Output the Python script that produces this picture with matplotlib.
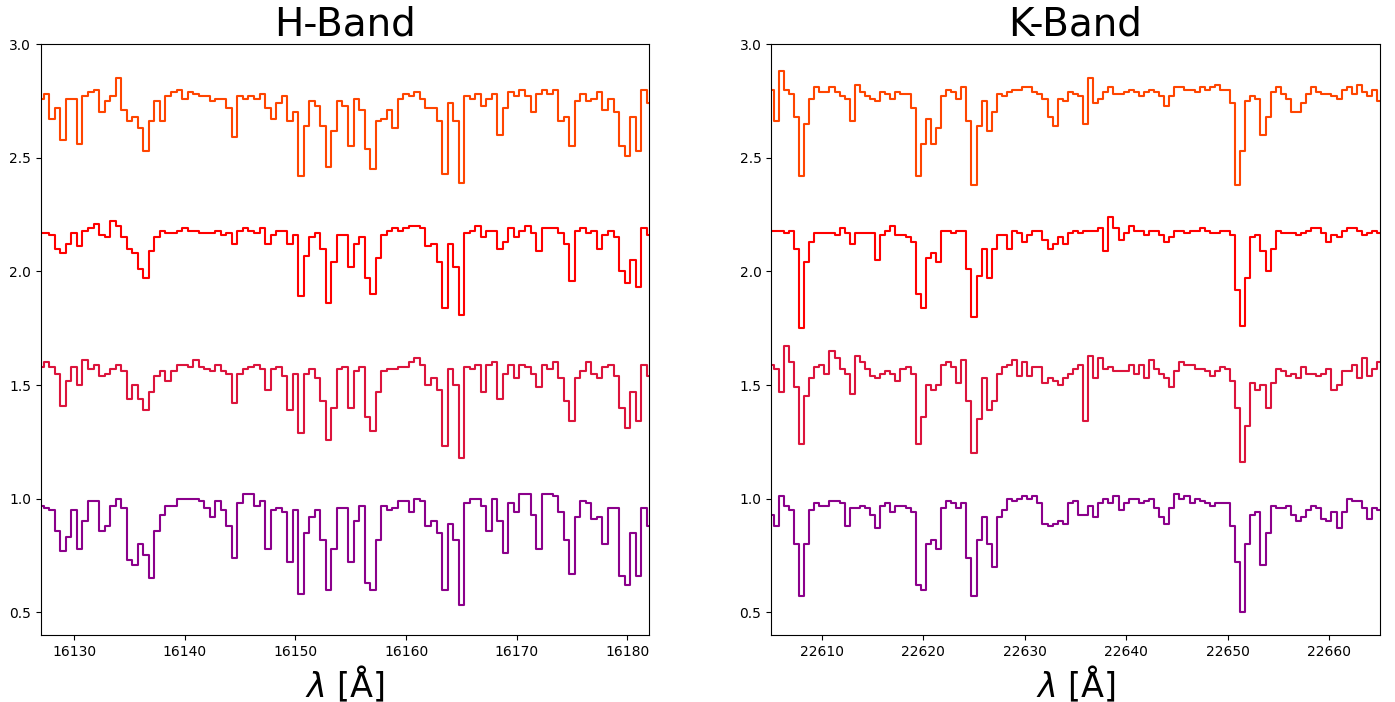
import numpy as np
import matplotlib
matplotlib.use('Agg')
import matplotlib.pyplot as plt


# wavelength grids (0.5 A sampling)
wave_h = np.arange(16127.0, 16182.01, 0.5)
wave_k = np.arange(22605.0, 22665.01, 0.5)

# H-band spectra, each one shifted up by ~0.6 for display
h_orange = [2.76, 2.78, 2.67, 2.72, 2.58, 2.76, 2.76, 2.56, 2.77, 2.79, 2.80, 2.70, 2.75, 2.77, 2.85, 2.71, 2.66, 2.68, 2.63, 2.53, 2.66, 2.75, 2.66, 2.77, 2.79, 2.80, 2.76, 2.79,
            2.78, 2.77, 2.77, 2.75, 2.76, 2.76, 2.72, 2.59, 2.77, 2.76, 2.77, 2.76, 2.78, 2.72, 2.67, 2.74, 2.77, 2.66, 2.70, 2.42, 2.64, 2.75, 2.73, 2.64, 2.46, 2.62, 2.75,
            2.73, 2.55, 2.76, 2.71, 2.54, 2.45, 2.66, 2.67, 2.71, 2.63, 2.76, 2.78, 2.77, 2.79, 2.76, 2.72, 2.72, 2.66, 2.43, 2.74, 2.66, 2.39, 2.77, 2.76, 2.78, 2.73, 2.76, 2.78,
            2.60, 2.72, 2.79, 2.77, 2.80, 2.77, 2.70, 2.78, 2.80, 2.78, 2.80, 2.66, 2.68, 2.55, 2.75, 2.78, 2.75, 2.76, 2.79, 2.71, 2.76, 2.70, 2.55, 2.51, 2.68, 2.53, 2.80, 2.74]
h_red = [2.17, 2.17, 2.16, 2.10, 2.08, 2.12, 2.17, 2.11, 2.18, 2.19, 2.21, 2.16, 2.15, 2.22, 2.20, 2.15, 2.10, 2.08, 2.01, 1.97, 2.09, 2.15, 2.18, 2.17, 2.17, 2.18, 2.19, 2.18,
         2.18, 2.17, 2.17, 2.17, 2.18, 2.16, 2.17, 2.12, 2.18, 2.19, 2.18, 2.17, 2.19, 2.12, 2.16, 2.18, 2.18, 2.12, 2.16, 1.89, 2.07, 2.15, 2.17, 2.10, 1.86, 2.04, 2.16,
         2.16, 2.02, 2.12, 2.15, 1.97, 1.90, 2.06, 2.16, 2.18, 2.19, 2.18, 2.19, 2.20, 2.20, 2.19, 2.11, 2.12, 2.04, 1.84, 2.12, 2.02, 1.81, 2.17, 2.18, 2.20, 2.15, 2.18, 2.18,
         2.10, 2.13, 2.19, 2.15, 2.18, 2.20, 2.17, 2.09, 2.19, 2.19, 2.19, 2.17, 2.12, 1.96, 2.18, 2.19, 2.17, 2.18, 2.10, 2.16, 2.18, 2.15, 2.00, 1.95, 2.05, 1.93, 2.19, 2.16]
h_crimson = [1.58, 1.60, 1.58, 1.55, 1.41, 1.52, 1.58, 1.50, 1.61, 1.57, 1.59, 1.54, 1.55, 1.57, 1.59, 1.56, 1.44, 1.50, 1.44, 1.39, 1.47, 1.54, 1.56, 1.52, 1.56, 1.59, 1.59, 1.58,
             1.61, 1.58, 1.57, 1.56, 1.59, 1.56, 1.55, 1.42, 1.55, 1.57, 1.58, 1.59, 1.57, 1.48, 1.57, 1.58, 1.54, 1.39, 1.55, 1.29, 1.55, 1.57, 1.53, 1.43, 1.26, 1.40, 1.57,
             1.58, 1.40, 1.56, 1.58, 1.36, 1.30, 1.47, 1.56, 1.57, 1.57, 1.58, 1.58, 1.60, 1.62, 1.59, 1.50, 1.53, 1.48, 1.23, 1.57, 1.50, 1.18, 1.58, 1.57, 1.59, 1.47, 1.59, 1.60,
             1.44, 1.55, 1.59, 1.53, 1.59, 1.58, 1.55, 1.49, 1.59, 1.57, 1.60, 1.53, 1.43, 1.34, 1.53, 1.56, 1.60, 1.55, 1.53, 1.58, 1.59, 1.54, 1.40, 1.31, 1.47, 1.34, 1.59, 1.54]
h_purple = [0.97, 0.96, 0.95, 0.86, 0.77, 0.83, 0.95, 0.78, 0.90, 0.99, 0.99, 0.86, 0.88, 0.97, 1.00, 0.96, 0.73, 0.71, 0.80, 0.75, 0.65, 0.86, 0.93, 0.97, 0.97, 1.00, 1.00, 1.00,
            1.00, 0.99, 0.96, 0.92, 0.99, 0.95, 0.88, 0.74, 0.98, 1.02, 1.02, 0.97, 0.99, 0.78, 0.95, 0.96, 0.94, 0.72, 0.95, 0.58, 0.85, 0.92, 0.95, 0.82, 0.60, 0.78, 0.96,
            0.96, 0.72, 0.90, 0.97, 0.63, 0.60, 0.82, 0.97, 0.95, 0.96, 0.99, 0.99, 0.94, 1.00, 0.99, 0.88, 0.90, 0.85, 0.60, 0.89, 0.82, 0.53, 0.98, 1.00, 1.00, 0.97, 0.86, 1.00,
            0.90, 0.76, 0.98, 0.94, 1.02, 1.02, 0.93, 0.78, 1.02, 1.02, 1.01, 0.94, 0.82, 0.67, 0.92, 0.99, 0.98, 0.91, 0.92, 0.80, 0.96, 0.96, 0.66, 0.62, 0.85, 0.66, 0.96, 0.88]

# K-band spectra, same offsets
k_orange = [2.80, 2.66, 2.88, 2.80, 2.78, 2.68, 2.42, 2.65, 2.76, 2.81, 2.79, 2.79, 2.81, 2.79, 2.77, 2.76, 2.66, 2.82, 2.79, 2.77, 2.76, 2.75, 2.79, 2.78, 2.76, 2.79, 2.78, 2.78, 2.72, 2.42,
            2.56, 2.67, 2.56, 2.63, 2.77, 2.80, 2.79, 2.76, 2.81, 2.66, 2.38, 2.64, 2.75, 2.62, 2.70, 2.78, 2.77, 2.79, 2.80, 2.80, 2.81, 2.81, 2.79, 2.78, 2.76, 2.68, 2.64, 2.76, 2.75, 2.79,
            2.78, 2.77, 2.65, 2.85, 2.74, 2.76, 2.79, 2.81, 2.78, 2.78, 2.79, 2.80, 2.79, 2.77, 2.79, 2.80, 2.79, 2.77, 2.73, 2.77, 2.81, 2.81, 2.80, 2.80, 2.79, 2.81, 2.80, 2.81, 2.82, 2.80,
            2.80, 2.74, 2.38, 2.53, 2.75, 2.77, 2.76, 2.60, 2.68, 2.79, 2.81, 2.78, 2.76, 2.70, 2.70, 2.74, 2.78, 2.81, 2.79, 2.78, 2.78, 2.77, 2.76, 2.80, 2.81, 2.78, 2.82, 2.79, 2.77, 2.80, 2.75]
k_red = [2.18, 2.18, 2.18, 2.17, 2.18, 2.10, 1.75, 2.04, 2.13, 2.17, 2.17, 2.17, 2.17, 2.16, 2.19, 2.17, 2.12, 2.17, 2.17, 2.17, 2.17, 2.05, 2.16, 2.18, 2.20, 2.16, 2.16, 2.15, 2.13, 1.90,
         1.84, 2.06, 2.08, 2.04, 2.18, 2.18, 2.17, 2.18, 2.18, 2.01, 1.80, 1.98, 2.10, 1.97, 2.10, 2.16, 2.16, 2.10, 2.18, 2.17, 2.13, 2.16, 2.18, 2.18, 2.14, 2.10, 2.12, 2.15, 2.12, 2.17,
         2.18, 2.17, 2.18, 2.18, 2.18, 2.19, 2.09, 2.24, 2.19, 2.14, 2.17, 2.20, 2.18, 2.18, 2.16, 2.18, 2.18, 2.16, 2.13, 2.15, 2.18, 2.18, 2.17, 2.18, 2.18, 2.19, 2.18, 2.17, 2.17, 2.18,
         2.18, 2.16, 1.92, 1.76, 1.97, 2.15, 2.16, 2.09, 2.00, 2.10, 2.18, 2.17, 2.17, 2.17, 2.16, 2.17, 2.18, 2.19, 2.19, 2.17, 2.13, 2.16, 2.15, 2.18, 2.19, 2.19, 2.18, 2.16, 2.17, 2.18, 2.17]
k_crimson = [1.59, 1.57, 1.47, 1.67, 1.60, 1.49, 1.24, 1.45, 1.53, 1.58, 1.59, 1.55, 1.65, 1.62, 1.57, 1.55, 1.46, 1.63, 1.60, 1.57, 1.54, 1.53, 1.55, 1.56, 1.55, 1.52, 1.57, 1.58, 1.55, 1.24,
             1.36, 1.50, 1.48, 1.50, 1.59, 1.60, 1.58, 1.51, 1.61, 1.43, 1.20, 1.35, 1.53, 1.39, 1.43, 1.55, 1.58, 1.59, 1.61, 1.54, 1.60, 1.54, 1.58, 1.58, 1.51, 1.53, 1.52, 1.50, 1.53, 1.55,
             1.57, 1.59, 1.34, 1.63, 1.53, 1.62, 1.57, 1.58, 1.56, 1.56, 1.56, 1.59, 1.55, 1.59, 1.53, 1.61, 1.57, 1.55, 1.53, 1.49, 1.56, 1.60, 1.59, 1.59, 1.57, 1.57, 1.56, 1.54, 1.56, 1.58,
             1.57, 1.52, 1.40, 1.16, 1.32, 1.51, 1.48, 1.50, 1.40, 1.51, 1.57, 1.56, 1.54, 1.55, 1.53, 1.58, 1.55, 1.55, 1.54, 1.55, 1.57, 1.48, 1.50, 1.56, 1.56, 1.59, 1.53, 1.62, 1.54, 1.57, 1.60]
k_purple = [0.93, 0.88, 1.01, 0.97, 0.95, 0.80, 0.57, 0.80, 0.95, 0.98, 0.97, 0.97, 0.99, 0.99, 0.98, 0.88, 0.96, 0.96, 0.97, 0.96, 0.93, 0.87, 0.97, 0.98, 0.94, 0.97, 0.97, 0.96, 0.94, 0.62,
            0.60, 0.80, 0.82, 0.78, 0.96, 0.99, 0.98, 0.96, 0.98, 0.74, 0.57, 0.82, 0.92, 0.80, 0.70, 0.92, 0.95, 1.00, 0.99, 1.00, 1.01, 1.00, 1.01, 0.98, 0.89, 0.88, 0.89, 0.90, 0.89, 0.98,
            0.99, 0.93, 0.93, 0.97, 0.92, 0.98, 1.00, 0.98, 1.01, 0.95, 0.98, 1.00, 1.00, 0.98, 0.99, 1.00, 0.96, 0.92, 0.89, 0.96, 1.02, 1.00, 1.01, 0.98, 1.00, 0.99, 0.98, 0.97, 0.98, 0.98,
            0.98, 0.88, 0.72, 0.50, 0.80, 0.93, 0.94, 0.71, 0.85, 0.97, 0.96, 0.96, 0.97, 0.93, 0.90, 0.92, 0.95, 0.97, 0.96, 0.91, 0.90, 0.94, 0.87, 0.94, 1.00, 0.99, 0.99, 0.96, 0.91, 0.96, 0.95]

colors = ['darkmagenta', 'crimson', 'red', 'orangered']


fig, (ax1, ax2) = plt.subplots(1, 2, figsize=(13.95, 7.02), dpi=100)
plt.subplots_adjust(left=0.0294, right=0.989, top=0.937, bottom=0.0954, wspace=0.2)

# H-band panel
for spec, c in zip([h_purple, h_crimson, h_red, h_orange], colors):
    ax1.plot(wave_h, spec, drawstyle='steps-mid', color=c, lw=1.5)
ax1.set_xlim(16127, 16182)
ax1.set_ylim(0.4, 3.0)
ax1.set_title('H-Band', fontsize=28)
ax1.set_xlabel(r'$\lambda$ [Å]', fontsize=24)

# K-band panel
for spec, c in zip([k_purple, k_crimson, k_red, k_orange], colors):
    ax2.plot(wave_k, spec, drawstyle='steps-mid', color=c, lw=1.5)
ax2.set_xlim(22605, 22665)
ax2.set_ylim(0.4, 3.0)
ax2.set_title('K-Band', fontsize=28)
ax2.set_xlabel(r'$\lambda$ [Å]', fontsize=24)

plt.savefig('out.png', dpi=100)
